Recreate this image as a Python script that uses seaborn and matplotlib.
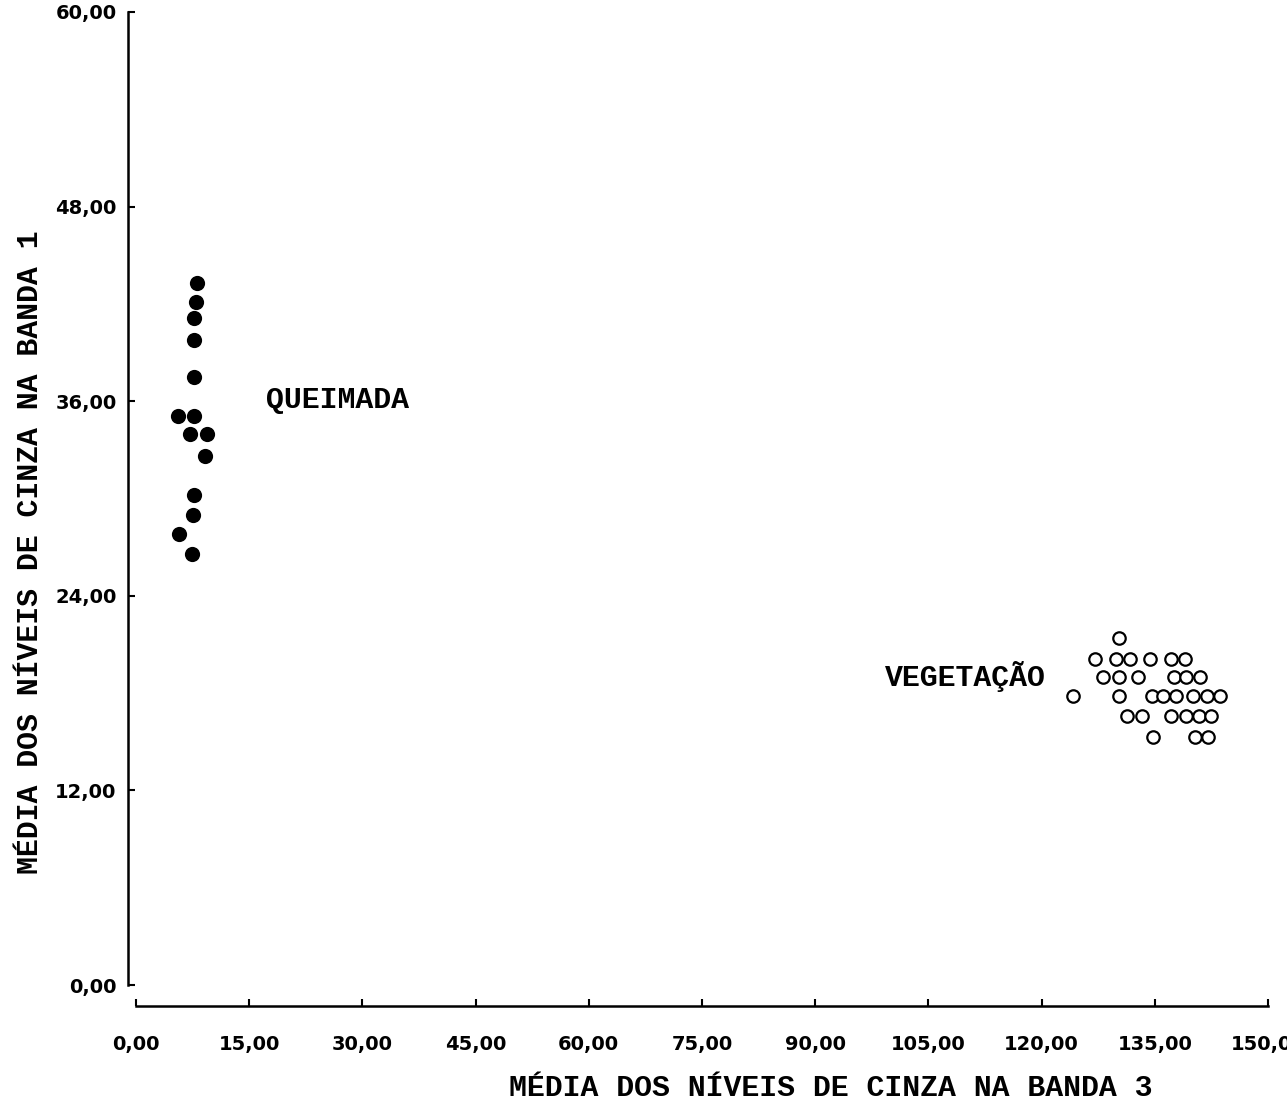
import matplotlib
matplotlib.use("Agg")
import matplotlib.pyplot as plt
import numpy as np
import pandas as pd
import seaborn as sns

# burned area (queimada) - filled circles
queimada_x = [8.1, 7.9, 7.7, 7.7, 7.7, 5.5, 7.7, 7.2, 9.4, 9.1, 7.7, 7.5, 5.7, 7.4]
queimada_y = [43.3, 42.1, 41.1, 39.8, 37.5, 35.1, 35.1, 34.0, 34.0, 32.6, 30.2, 29.0, 27.8, 26.6]

# vegetation (vegetacao) - open circles
veg_x = [130.2,
         127.1, 129.9, 131.7, 134.4, 137.1, 139.0,
         128.2, 130.2, 132.8, 137.5, 139.2, 141.0,
         124.2, 130.2, 134.6, 136.1, 137.8, 140.1, 141.9, 143.6,
         131.3, 133.3, 137.2, 139.2, 140.8, 142.4,
         134.8, 140.3, 142.1]
veg_y = [21.4,
         20.1, 20.1, 20.1, 20.1, 20.1, 20.1,
         19.0, 19.0, 19.0, 19.0, 19.0, 19.0,
         17.8, 17.8, 17.8, 17.8, 17.8, 17.8, 17.8, 17.8,
         16.6, 16.6, 16.6, 16.6, 16.6, 16.6,
         15.3, 15.3, 15.3]

x_ticks = [0, 15, 30, 45, 60, 75, 90, 105, 120, 135, 150]
y_ticks = [0, 12, 24, 36, 48, 60]

x_label = "MÉDIA DOS NÍVEIS DE CINZA NA BANDA 3"
y_label = "MÉDIA DOS NÍVEIS DE CINZA NA BANDA 1"

df_q = pd.DataFrame({"x": queimada_x, "y": queimada_y})
df_v = pd.DataFrame({"x": veg_x, "y": veg_y})

sns.set_style("ticks")
plt.rcParams["font.family"] = ["DejaVu Sans"]
plt.rcParams["font.weight"] = "bold"
plt.rcParams["xtick.labelsize"] = 14
plt.rcParams["ytick.labelsize"] = 14
plt.rcParams["text.color"] = "black"
plt.rcParams["xtick.color"] = "black"
plt.rcParams["ytick.color"] = "black"

fig = plt.figure(figsize=(12.87, 11.02), dpi=100)
ax = fig.add_axes([136 / 1287, 1 - 985 / 1102, 1132 / 1287, 973 / 1102])

sns.scatterplot(data=df_q, x="x", y="y", ax=ax, color="black", s=120,
                edgecolor="black", linewidth=0, zorder=3)
sns.scatterplot(data=df_v, x="x", y="y", ax=ax, color="white", s=80,
                edgecolor="black", linewidth=1.6, zorder=3)

ax.set_xlim(0, 150)
ax.set_ylim(0, 60)
ax.set_xticks(x_ticks, [f"{v:.2f}".replace(".", ",") for v in x_ticks])
ax.set_yticks(y_ticks, [f"{v:.2f}".replace(".", ",") for v in y_ticks])
ax.tick_params(axis="x", direction="in", length=5, width=1.5, pad=21,
               labelsize=14, colors="black")
ax.tick_params(axis="y", direction="in", length=5, width=1.5, pad=8,
               labelsize=14, colors="black")

sns.despine(ax=ax)
ax.spines["left"].set_position(("outward", 6))
ax.spines["bottom"].set_position(("outward", 15))
ax.spines["left"].set_linewidth(1.8)
ax.spines["bottom"].set_linewidth(1.8)
ax.spines["left"].set_color("black")
ax.spines["bottom"].set_color("black")

mono = {"family": "Liberation Mono", "fontweight": "bold", "fontsize": 21.5,
        "color": "black"}
ax.set_xlabel(x_label, va="center", **mono)
ax.set_ylabel(y_label, va="center", **mono)
ax.xaxis.set_label_coords((831 - 136) / 1132, -(1088 - 985) / 973)
ax.yaxis.set_label_coords((30 - 136) / 1132, (985 - 552) / 973)

ax.text(17.2, 36.1, "QUEIMADA", ha="left", va="center", **mono)
ax.text(99.2, 19.05, "VEGETAÇÃO", ha="left", va="center", **mono)

fig.savefig("out.png", dpi=100)
